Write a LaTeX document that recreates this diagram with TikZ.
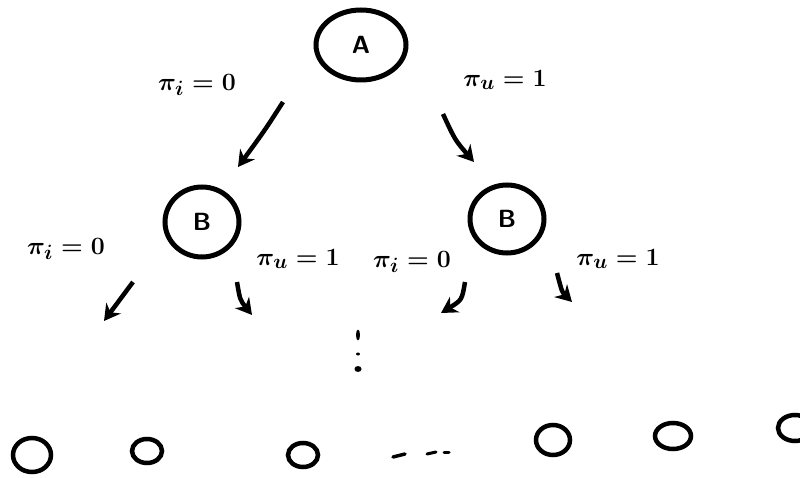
\documentclass[tikz,border=0pt]{standalone}
\usetikzlibrary{shapes.geometric,arrows.meta}
\begin{document}
\begin{tikzpicture}[x=1pt,y=-1pt,
  stnode/.style={draw,ellipse,line width=5pt,inner sep=0pt,font=\Huge\bfseries\sffamily},
  leaf/.style={draw,ellipse,line width=4.5pt,inner sep=0pt},
  lab/.style={font=\Huge\boldmath,scale=1.0},
  arr/.style={line width=4.5pt,-{Stealth[length=16pt,width=18pt]}},
  dotmark/.style={fill,ellipse,inner sep=0pt}]
\useasboundingbox (0,0) rectangle (800,478);
% state nodes
\node[stnode,minimum width=90pt,minimum height=70pt] (A) at (361,45) {A};
\node[stnode,minimum width=74pt,minimum height=70pt] (B1) at (202,222) {B};
\node[stnode,minimum width=74pt,minimum height=68pt] (B2) at (507,219) {B};
% labels
\node[lab] (l1) at (197,85) {$\pi_i = 0$};
\node[lab] (l2) at (505,80) {$\pi_u = 1$};
\node[lab] (l3) at (66,249) {$\pi_i = 0$};
\node[lab] (l4) at (298,259) {$\pi_u = 1$};
\node[lab] (l5) at (412,262) {$\pi_i = 0$};
\node[lab] (l6) at (618,259) {$\pi_u = 1$};
% arrow coordinates
\coordinate (a1s) at (283,102); \coordinate (a1e) at (238,167);
\coordinate (a2s) at (443,114); \coordinate (a2e) at (474,162);
\coordinate (b1s) at (133,282); \coordinate (b1e) at (104,321);
\coordinate (b2s) at (237,282); \coordinate (b2e) at (252,315);
\coordinate (c1s) at (465,282); \coordinate (c1e) at (441,313);
\coordinate (c2s) at (557,273); \coordinate (c2e) at (572,302);
\draw[arr] (a1s) .. controls (265,130) .. (a1e);
\draw[arr] (a2s) .. controls (455,140) .. (a2e);
\draw[arr] (b1s) -- (b1e);
\draw[arr] (b2s) .. controls (240,300) .. (b2e);
\draw[arr] (c1s) .. controls (462,300) .. (c1e);
\draw[arr] (c2s) .. controls (562,292) .. (c2e);
% vertical dots
\node[dotmark,minimum width=4pt,minimum height=11pt] (v1) at (358,335) {};
\node[dotmark,minimum width=4pt,minimum height=3pt] (v2) at (358,354) {};
\node[dotmark,minimum width=7pt,minimum height=6pt] (v3) at (358,369) {};
% leaves
\node[leaf,minimum width=38pt,minimum height=34pt] (f1) at (32,455) {};
\node[leaf,minimum width=30pt,minimum height=24pt] (f2) at (147,451) {};
\node[leaf,minimum width=30pt,minimum height=24pt] (f3) at (303,455) {};
\node[leaf,minimum width=34pt,minimum height=30pt] (f4) at (553,440) {};
\node[leaf,minimum width=36pt,minimum height=26pt] (f5) at (673,436) {};
\node[leaf,minimum width=34pt,minimum height=26pt] (f6) at (795,428) {};
% horizontal dashes
\coordinate (h1s) at (393,457); \coordinate (h1e) at (405,454);
\coordinate (h2s) at (427,454); \coordinate (h2e) at (436,452);
\coordinate (h3s) at (444,452); \coordinate (h3e) at (449,452);
\draw[line width=3.5pt,line cap=round] (h1s) -- (h1e);
\draw[line width=3pt,line cap=round] (h2s) -- (h2e);
\draw[line width=3pt,line cap=round] (h3s) -- (h3e);
\end{tikzpicture}
\end{document}
